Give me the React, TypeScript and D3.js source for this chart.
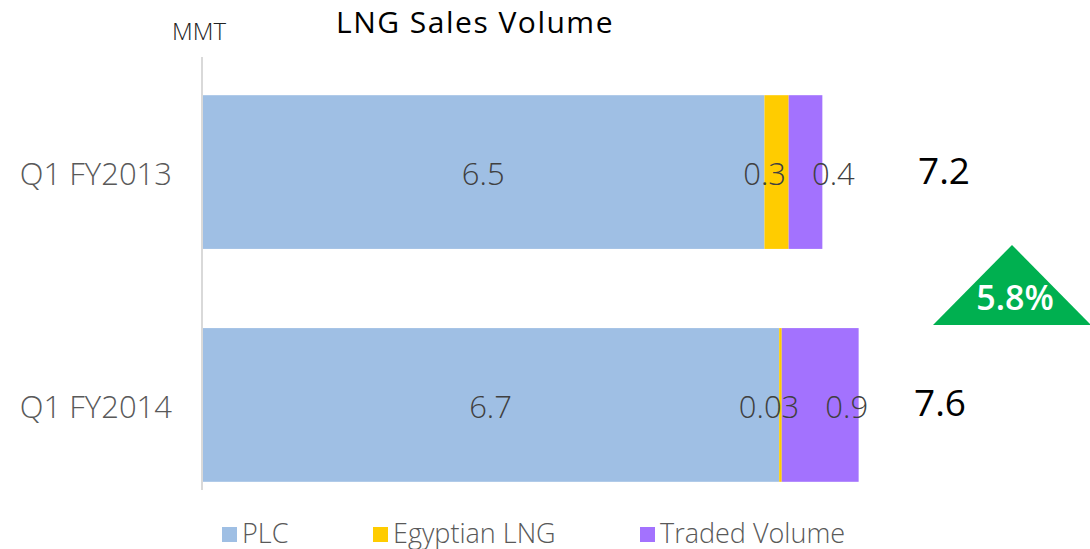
import React from 'react';
import * as d3 from 'd3';

const categories = ['Q1 FY2013', 'Q1 FY2014'];
const plc = [6.51, 6.68];
const egyptian = [0.28, 0.03];
const traded = [0.39, 0.89];
const plcLabels = ['6.5', '6.7'];
const egyptianLabels = ['0.3', '0.03'];
const tradedLabels = ['0.4', '0.9'];
const totals = ['7.2', '7.6'];
const growth = '5.8%';
const seriesNames = ['PLC', 'Egyptian LNG', 'Traded Volume'];
const colors = ['#9fbfe4', '#ffcc00', '#a372fe'];

const FONT = '"Open Sans", "DejaVu Sans", sans-serif';

const drawChart = (ref) => {
    const svg = d3.select(ref.current);
    svg.selectAll('*').remove();

    const x = d3.scaleLinear().domain([0, 10]).range([202, 1066]);
    const y = d3.scaleBand().domain(categories).range([57, 520])
        .paddingInner(0.34).paddingOuter(0.164);

    const rows = categories.map((c, i) => ({ cat: c, vals: [plc[i], egyptian[i], traded[i]], labels: [plcLabels[i], egyptianLabels[i], tradedLabels[i]] }));
    const stack = d3.stack().keys([0, 1, 2]).value((d, k) => d.vals[k]);
    const layers = stack(rows);

    // title + unit
    svg.append('text').attr('x', 475).attr('y', 33).attr('text-anchor', 'middle')
        .attr('font-size', 30).attr('letter-spacing', 1.5).attr('fill', '#000').text('LNG Sales Volume');
    svg.append('text').attr('x', 172).attr('y', 40)
        .attr('font-size', 24).attr('font-weight', 300).attr('fill', '#222').text('MMT');

    // bars
    layers.forEach((layer, k) => {
        svg.append('g').selectAll('rect')
            .data(layer).enter().append('rect')
            .attr('x', d => x(d[0]))
            .attr('y', d => y(d.data.cat))
            .attr('width', d => x(d[1]) - x(d[0]))
            .attr('height', y.bandwidth())
            .attr('fill', colors[k]);
    });

    // axis line
    svg.append('line').attr('x1', x(0)).attr('x2', x(0)).attr('y1', 57).attr('y2', 490)
        .attr('stroke', '#d9d9d9').attr('stroke-width', 2);

    // category labels
    svg.append('g').selectAll('text').data(categories).enter().append('text')
        .attr('x', 172).attr('y', d => y(d) + y.bandwidth() / 2 + 1)
        .attr('text-anchor', 'end').attr('dominant-baseline', 'central')
        .attr('font-size', 31).attr('font-weight', 300).attr('fill', '#595959').text(d => d);

    // data labels, small segments pushed apart so they don't overlap
    const gap = 26;
    rows.forEach((r, i) => {
        const cy = y(r.cat) + y.bandwidth() / 2;
        const pos = layers.map(l => (x(l[i][0]) + x(l[i][1])) / 2);
        const texts = r.labels.map(t => svg.append('text')
            .attr('text-anchor', 'middle').attr('dominant-baseline', 'central')
            .attr('y', cy + 1)
            .attr('font-size', 31).attr('font-weight', 300).attr('fill', '#404040').text(t));
        const w = texts.map(t => t.node().getComputedTextLength());
        const l = pos[1], rr = pos[2];
        const need = (w[1] + w[2]) / 2 + gap;
        if (rr - l < need) {
            const push = (need - (rr - l)) / 2;
            pos[1] = l - push * 0.6;
            pos[2] = rr + push * 1.4;
        }
        texts.forEach((t, k) => t.attr('x', pos[k]));
        svg.append('text').attr('x', 944 - i * 4).attr('y', cy - 3)
            .attr('text-anchor', 'middle').attr('dominant-baseline', 'central')
            .attr('font-size', 37).attr('fill', '#000').text(totals[i]);
    });

    // growth triangle
    svg.append('path').attr('d', 'M1012,245 L1091,325 L933,325 Z').attr('fill', '#00b050');
    svg.append('text').attr('x', 1015).attr('y', 297).attr('text-anchor', 'middle')
        .attr('dominant-baseline', 'central').attr('font-size', 34).attr('font-weight', 600)
        .attr('fill', '#fff').text(growth);

    // legend
    const legendX = [222, 373, 640];
    seriesNames.forEach((n, k) => {
        svg.append('rect').attr('x', legendX[k]).attr('y', 527).attr('width', 15).attr('height', 15)
            .attr('fill', colors[k]);
        svg.append('text').attr('x', legendX[k] + 20).attr('y', 532)
            .attr('dominant-baseline', 'central').attr('font-size', 27).attr('font-weight', 300)
            .attr('fill', '#595959').text(n);
    });
};

export default function App() {
    const ref = React.useRef(null);
    React.useEffect(() => { drawChart(ref); }, []);
    return (
        <svg ref={ref} width={1090} height={549}
            style={{ position: 'absolute', left: 0, top: 0, fontFamily: FONT, background: '#fff' }} />
    );
}
